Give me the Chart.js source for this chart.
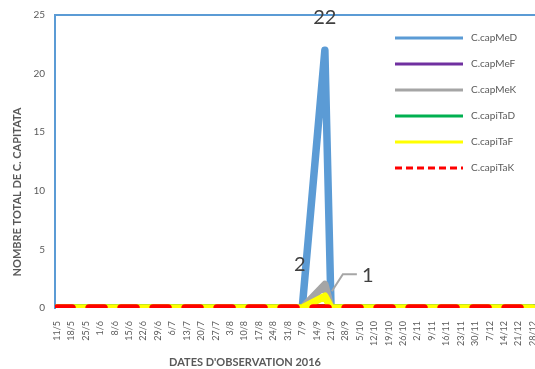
<!DOCTYPE html>
<html>
<head>
<meta charset="utf-8">
<script src="https://cdn.jsdelivr.net/npm/chart.js@4.4.1/dist/chart.umd.min.js"></script>
<style>
  html, body { margin: 0; padding: 0; background: #ffffff; }
  #wrap { width: 535px; height: 369px; position: relative; }
</style>
</head>
<body>
<div id="wrap"><canvas id="lineChart"></canvas></div>
<script>
// tick labels on the x axis (weekly)
const dateLabels = ['11/5', '18/5', '25/5', '1/6', '8/6', '15/6', '22/6', '29/6', '6/7', '13/7', '20/7', '27/7',
    '3/8', '10/8', '17/8', '24/8', '31/8', '7/9', '14/9', '21/9', '28/9', '5/10', '12/10', '19/10', '26/10',
    '2/11', '9/11', '16/11', '23/11', '30/11', '7/12', '14/12', '21/12', '28/12'];
// observation dates of the series
const obsDates = ['11/5', '18/5', '25/5', '1/6', '8/6', '15/6', '22/6', '29/6', '6/7', '13/7', '20/7', '27/7',
    '3/8', '10/8', '17/8', '24/8', '31/8', '7/9', '18/9', '21/9', '28/9', '5/10', '12/10', '19/10', '26/10',
    '2/11', '9/11', '16/11', '23/11', '30/11', '7/12', '14/12', '21/12', '28/12'];
const seriesNames = ['C.capMeD', 'C.capMeF', 'C.capMeK', 'C.capiTaD', 'C.capiTaF', 'C.capiTaK'];
const capMeD  = [0,0,0,0,0,0,0,0,0,0,0,0,0,0,0,0,0,0,22,0,0,0,0,0,0,0,0,0,0,0,0,0,0,0];
const capMeF  = [0,0,0,0,0,0,0,0,0,0,0,0,0,0,0,0,0,0,0,0,0,0,0,0,0,0,0,0,0,0,0,0,0,0];
const capMeK  = [0,0,0,0,0,0,0,0,0,0,0,0,0,0,0,0,0,0,2,0,0,0,0,0,0,0,0,0,0,0,0,0,0,0];
const capiTaD = [0,0,0,0,0,0,0,0,0,0,0,0,0,0,0,0,0,0,0,0,0,0,0,0,0,0,0,0,0,0,0,0,0,0];
const capiTaF = [0,0,0,0,0,0,0,0,0,0,0,0,0,0,0,0,0,0,1,0,0,0,0,0,0,0,0,0,0,0,0,0,0,0];
const capiTaK = [0,0,0,0,0,0,0,0,0,0,0,0,0,0,0,0,0,0,0,0,0,0,0,0,0,0,0,0,0,0,0,0,0,0];
const yTicks = [0, 5, 10, 15, 20, 25];

const seriesValues = [capMeD, capMeF, capMeK, capiTaD, capiTaF, capiTaK];
const seriesColors = ['#5B9BD5', '#7030A0', '#A5A5A5', '#00B050', '#FFFF00', '#FF0000'];
const FONT = 'Lato, "Liberation Sans", sans-serif';
const TXT = '#595959';

function dayOf(label) {
    const p = label.split('/');
    return (Date.UTC(2016, +p[1] - 1, +p[0]) - Date.UTC(2016, 4, 11)) / 86400000;
}

const datasets = seriesNames.map((name, i) => ({
    label: name,
    data: obsDates.map((d, k) => ({ x: dayOf(d), y: seriesValues[i][k] })),
    borderColor: seriesColors[i],
    backgroundColor: seriesColors[i],
    borderWidth: 7.5,
    borderDash: i === 5 ? [15, 17] : [],
    borderCapStyle: 'round',
    borderJoinStyle: 'round',
    pointRadius: 0,
    tension: 0,
    order: 5 - i
}));

const extras = {
    id: 'extras',
    afterDatasetsDraw(chart) {
        const c = chart.ctx;
        c.save();
        // data labels
        c.fillStyle = '#404040';
        c.textAlign = 'center';
        c.textBaseline = 'middle';
        const pMeD = chart.getDatasetMeta(0).data[18];
        c.font = '20px ' + FONT;
        c.fillText(String(capMeD[18]), pMeD.x, pMeD.y - 33);
        const pMeK = chart.getDatasetMeta(2).data[18];
        c.fillText(String(capMeK[18]), pMeK.x - 25, pMeK.y - 20);
        const pTaF = chart.getDatasetMeta(4).data[18];
        c.strokeStyle = '#A6A6A6';
        c.lineWidth = 2;
        c.beginPath();
        c.moveTo(pTaF.x + 7, pTaF.y - 5);
        c.lineTo(pTaF.x + 18, pTaF.y - 22);
        c.lineTo(pTaF.x + 32, pTaF.y - 22);
        c.stroke();
        c.fillText(String(capiTaF[18]), pTaF.x + 43, pTaF.y - 21);

        // legend
        c.font = '10px ' + FONT;
        c.textAlign = 'left';
        seriesNames.forEach((name, i) => {
            const y = 38 + i * 26;
            c.strokeStyle = seriesColors[i];
            c.lineWidth = 3;
            c.setLineDash(i === 5 ? [7, 4] : []);
            c.beginPath();
            c.moveTo(395, y);
            c.lineTo(463, y);
            c.stroke();
            c.setLineDash([]);
            c.fillStyle = TXT;
            c.fillText(name, 471, y);
        });

        // axis titles
        c.fillStyle = TXT;
        c.font = 'bold 11px ' + FONT;
        c.textAlign = 'center';
        c.fillText("DATES D'OBSERVATION 2016", 245, 362);
        c.translate(17, 192);
        c.rotate(-Math.PI / 2);
        c.font = 'bold 11px ' + FONT;
        c.fillText('NOMBRE TOTAL DE C. CAPITATA', 0, 0);
        c.restore();
    }
};

const ctxLine = document.getElementById('lineChart').getContext('2d');
let chart = new Chart(ctxLine, {
    type: 'line',
    data: { datasets: datasets },
    options: {
        responsive: true,
        maintainAspectRatio: false,
        animation: false,
        layout: { padding: { left: 0, right: 0, top: 15, bottom: 0 } },
        plugins: {
            legend: { display: false },
            tooltip: { enabled: false }
        },
        scales: {
            x: {
                type: 'linear',
                min: -1,
                max: 232,
                afterBuildTicks: (scale) => {
                    scale.ticks = dateLabels.map(l => ({ value: dayOf(l) }));
                },
                afterFit: (scale) => {
                    scale.height = 61;
                    scale.paddingLeft = 0;
                    scale.paddingRight = 0;
                },
                ticks: {
                    autoSkip: false,
                    minRotation: 90,
                    maxRotation: 90,
                    padding: 5,
                    color: TXT,
                    font: { size: 9, family: FONT },
                    callback: (value, index) => dateLabels[index]
                },
                grid: { display: false },
                border: { display: false }
            },
            y: {
                min: 0,
                max: 25,
                afterBuildTicks: (scale) => {
                    scale.ticks = yTicks.map(v => ({ value: v }));
                },
                afterFit: (scale) => {
                    scale.width = 55;
                    scale.paddingTop = 0;
                    scale.paddingBottom = 0;
                },
                ticks: {
                    padding: 10,
                    color: TXT,
                    font: { size: 10, family: FONT }
                },
                grid: {
                    drawTicks: false,
                    lineWidth: 2,
                    color: (ctx) => ctx.tick && ctx.tick.value === 25 ? '#5B9BD5' : 'rgba(0,0,0,0)'
                },
                border: { color: '#5B9BD5', width: 2 }
            }
        }
    },
    plugins: [extras]
});
</script>
</body>
</html>
